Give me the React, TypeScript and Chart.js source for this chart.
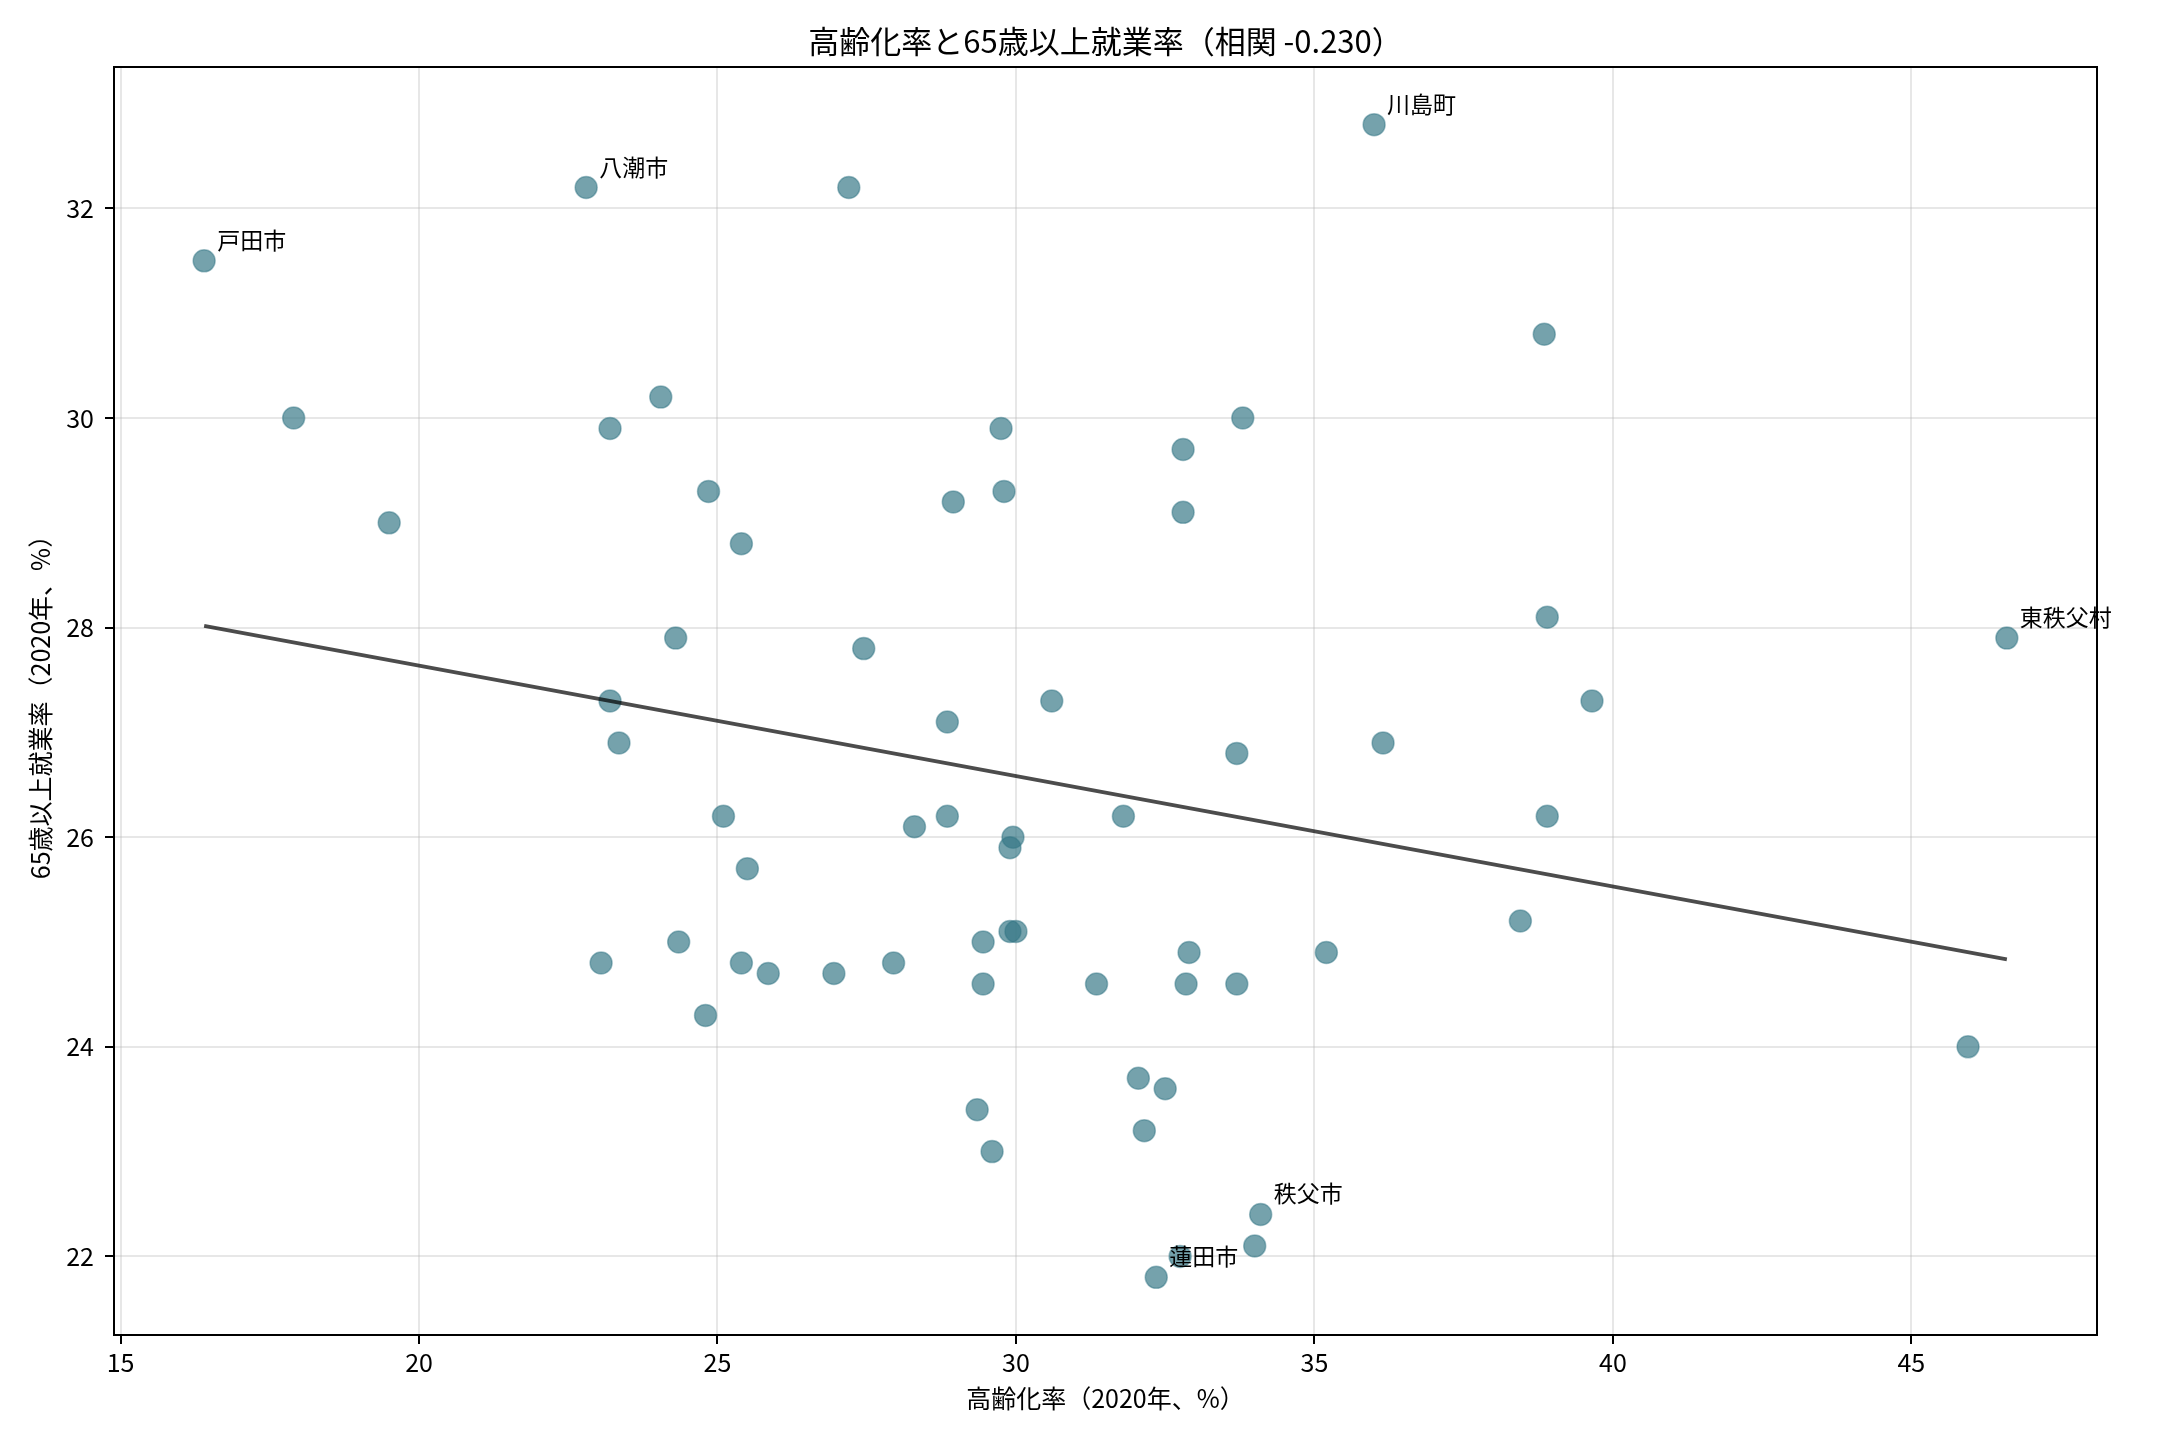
import { useEffect, useRef } from 'react'
import { Chart, registerables } from 'chart.js'

Chart.register(...registerables)

// 高齢化率（2020年、%）
const agingRate = [
  16.4, 17.9, 19.5, 22.8, 27.2, 36.0, 38.85, 24.05, 23.2, 24.85,
  25.4, 29.75, 29.8, 28.95, 33.8, 32.8, 32.8, 38.9, 46.6, 24.3,
  27.45, 23.2, 23.35, 30.6, 28.85, 39.65, 33.7, 36.15, 25.1, 28.3,
  28.85, 29.95, 29.9, 31.8, 38.9, 25.5, 38.45, 23.05, 24.35, 25.4,
  25.85, 24.8, 26.95, 27.95, 29.45, 29.9, 30.0, 29.45, 31.35, 32.9,
  32.85, 33.7, 35.2, 45.95, 32.05, 32.5, 29.35, 29.6, 32.15, 34.1,
  34.0, 32.75, 32.35,
]

// 65歳以上就業率（2020年、%）
const employmentRate = [
  31.5, 30.0, 29.0, 32.2, 32.2, 32.8, 30.8, 30.2, 29.9, 29.3,
  28.8, 29.9, 29.3, 29.2, 30.0, 29.7, 29.1, 28.1, 27.9, 27.9,
  27.8, 27.3, 26.9, 27.3, 27.1, 27.3, 26.8, 26.9, 26.2, 26.1,
  26.2, 26.0, 25.9, 26.2, 26.2, 25.7, 25.2, 24.8, 25.0, 24.8,
  24.7, 24.3, 24.7, 24.8, 25.0, 25.1, 25.1, 24.6, 24.6, 24.9,
  24.6, 24.6, 24.9, 24.0, 23.7, 23.6, 23.4, 23.0, 23.2, 22.4,
  22.1, 22.0, 21.8,
]

// names shown next to selected points ('' = no label)
const cityLabels = agingRate.map(() => '')
cityLabels[0] = '戸田市'
cityLabels[3] = '八潮市'
cityLabels[5] = '川島町'
cityLabels[18] = '東秩父村'
cityLabels[59] = '秩父市'
cityLabels[62] = '蓮田市'

const xTicks = [15, 20, 25, 30, 35, 40, 45]
const yTicks = [22, 24, 26, 28, 30, 32]

const chartTitle = '高齢化率と65歳以上就業率（相関 -0.230）'

const FONT = '"Noto Sans CJK JP", "Noto Sans", sans-serif'

function fitLine(xs: number[], ys: number[]) {
  const n = xs.length
  const mx = xs.reduce((a, b) => a + b, 0) / n
  const my = ys.reduce((a, b) => a + b, 0) / n
  let sxy = 0
  let sxx = 0
  for (let i = 0; i < n; i++) {
    sxy += (xs[i] - mx) * (ys[i] - my)
    sxx += (xs[i] - mx) ** 2
  }
  const slope = sxy / sxx
  return { slope, intercept: my - slope * mx }
}

function paddedRange(vals: number[]) {
  const lo = Math.min(...vals)
  const hi = Math.max(...vals)
  const m = (hi - lo) * 0.05
  return [lo - m, hi + m]
}

// frame round the plot, the title over the plot centre, and the city names
const frameAndLabels = {
  id: 'frameAndLabels',
  afterDatasetsDraw(chart: any) {
    const { ctx, chartArea, scales } = chart
    ctx.save()
    ctx.strokeStyle = '#000'
    ctx.lineWidth = 2
    ctx.strokeRect(chartArea.left, chartArea.top, chartArea.right - chartArea.left, chartArea.bottom - chartArea.top)

    ctx.fillStyle = '#000'
    ctx.font = `31px ${FONT}`
    ctx.textAlign = 'center'
    ctx.textBaseline = 'middle'
    ctx.fillText(chartTitle, (chartArea.left + chartArea.right) / 2, 41)

    ctx.font = `23px ${FONT}`
    ctx.textAlign = 'left'
    ctx.textBaseline = 'alphabetic'
    cityLabels.forEach((name, i) => {
      if (!name) return
      const px = scales.x.getPixelForValue(agingRate[i])
      const py = scales.y.getPixelForValue(employmentRate[i])
      ctx.fillText(name, px + 13, py - 12)
    })
    ctx.restore()
  },
}

export default function App() {
  const canvasRef = useRef<HTMLCanvasElement>(null)

  useEffect(() => {
    document.body.style.margin = '0'
    if (!canvasRef.current) return

    const { slope, intercept } = fitLine(agingRate, employmentRate)
    const xMin = Math.min(...agingRate)
    const xMax = Math.max(...agingRate)
    const [xLo, xHi] = paddedRange(agingRate)
    const [yLo, yHi] = paddedRange(employmentRate)

    const chart = new Chart(canvasRef.current, {
      type: 'scatter',
      data: {
        datasets: [
          {
            type: 'line',
            data: [
              { x: xMin, y: intercept + slope * xMin },
              { x: xMax, y: intercept + slope * xMax },
            ],
            borderColor: 'rgba(0,0,0,0.7)',
            borderWidth: 3.75,
            pointRadius: 0,
            fill: false,
            order: 0,
          },
          {
            data: agingRate.map((x, i) => ({ x, y: employmentRate[i] })),
            backgroundColor: 'rgba(51,118,132,0.68)',
            borderColor: 'rgba(51,118,132,0.45)',
            borderWidth: 1.5,
            pointRadius: 11,
            order: 1,
          },
        ],
      },
      options: {
        responsive: false,
        animation: false,
        layout: { padding: { left: 0, right: 63, top: 67, bottom: 0 } },
        plugins: {
          legend: { display: false },
          tooltip: { enabled: false },
          title: { display: false },
        },
        scales: {
          x: {
            type: 'linear',
            min: xLo,
            max: xHi,
            afterBuildTicks: (scale: any) => {
              scale.ticks = xTicks.map((value) => ({ value }))
            },
            afterFit: (scale: any) => {
              scale.height = 105
            },
            ticks: {
              color: '#000',
              font: { family: FONT, size: 25 },
              padding: 3,
              maxRotation: 0,
            },
            grid: {
              color: 'rgba(176,176,176,0.3)',
              lineWidth: 2,
              tickColor: '#000',
              tickLength: 9,
              tickWidth: 2,
            },
            border: { display: false },
            title: {
              display: true,
              text: '高齢化率（2020年、%）',
              color: '#000',
              font: { family: FONT, size: 25 },
              padding: { top: 0, bottom: 27 },
            },
          },
          y: {
            type: 'linear',
            min: yLo,
            max: yHi,
            afterBuildTicks: (scale: any) => {
              scale.ticks = yTicks.map((value) => ({ value }))
            },
            afterFit: (scale: any) => {
              scale.width = 114
            },
            ticks: {
              color: '#000',
              font: { family: FONT, size: 25 },
              padding: 11,
            },
            grid: {
              color: 'rgba(176,176,176,0.3)',
              lineWidth: 2,
              tickColor: '#000',
              tickLength: 9,
              tickWidth: 2,
            },
            border: { display: false },
            title: {
              display: true,
              text: '65歳以上就業率（2020年、%）',
              color: '#000',
              font: { family: FONT, size: 25 },
              padding: { top: 25, bottom: 0 },
            },
          },
        },
      },
      plugins: [frameAndLabels],
    })

    return () => {
      chart.destroy()
    }
  }, [])

  return (
    <div style={{ width: 2160, height: 1440 }}>
      <canvas ref={canvasRef} width={2160} height={1440} style={{ display: 'block' }}></canvas>
    </div>
  )
}
